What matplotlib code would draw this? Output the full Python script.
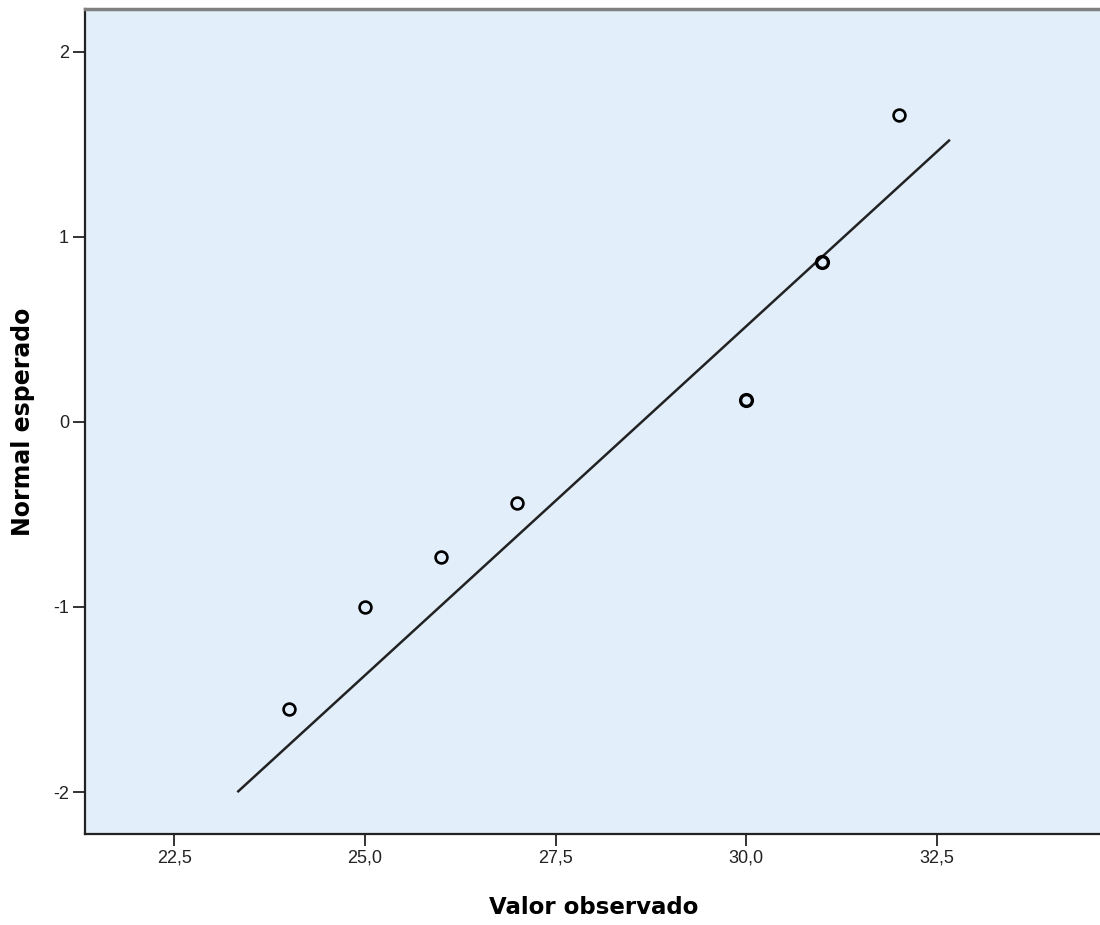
import matplotlib.pyplot as plt
from matplotlib.ticker import FuncFormatter

valor_obs = [24, 25, 26, 27, 30, 31, 32]
normal_esp = [-1.55, -1.00, -0.73, -0.44, 0.12, 0.865, 1.66]
# puntos repetidos (se ven con borde mas grueso)
repetidos = [1, 1, 1, 1, 2, 2, 1]

# recta de referencia
media = 28.63
desv = 2.65
recta_x = [23.34, 32.66]

x_ticks = [22.5, 25.0, 27.5, 30.0, 32.5]
y_ticks = [-2, -1, 0, 1, 2]


def main():
    fig = plt.figure(figsize=(11, 9.25), dpi=100)
    ax = fig.add_axes([85 / 1100, 91 / 925, 1 - 85 / 1100, 825 / 925])
    ax.set_facecolor('#E2EEFA')

    recta_y = [(x - media) / desv for x in recta_x]
    ax.plot(recta_x, recta_y, color='#222222', lw=1.8, zorder=2)

    for x, y, n in zip(valor_obs, normal_esp, repetidos):
        ax.plot(x, y, 'o', ms=8.5, mfc='none', mec='black',
                mew=1.9 if n == 1 else 2.4, zorder=3)

    ax.set_xlim(21.33, 34.64)
    ax.set_ylim(-2.227, 2.232)
    ax.set_xticks(x_ticks)
    ax.set_yticks(y_ticks)
    ax.xaxis.set_major_formatter(FuncFormatter(lambda v, p: ('%.1f' % v).replace('.', ',')))
    ax.yaxis.set_major_formatter(FuncFormatter(lambda v, p: '%d' % v))
    ax.tick_params(direction='out', length=8.5, width=1.4, color='#333333',
                   labelsize=13, pad=3)
    for lab in ax.get_xticklabels() + ax.get_yticklabels():
        lab.set_family('Liberation Sans')
        lab.set_color('#222222')

    ax.spines['left'].set_linewidth(1.6)
    ax.spines['bottom'].set_linewidth(1.6)
    ax.spines['left'].set_color('#222222')
    ax.spines['bottom'].set_color('#222222')
    ax.spines['top'].set_color('#808080')
    ax.spines['top'].set_linewidth(2.5)
    ax.spines['right'].set_visible(False)

    fig.text(594 / 1100, 1 - 908 / 925, 'Valor observado', ha='center', va='center',
             fontsize=16.5, fontweight='bold', family='DejaVu Sans')
    fig.text(23 / 1100, 1 - 422 / 925, 'Normal esperado', ha='center', va='center',
             rotation=90, fontsize=17, fontweight='bold', family='DejaVu Sans')

    fig.savefig('out.png', dpi=100)


if __name__ == "__main__":
    main()
